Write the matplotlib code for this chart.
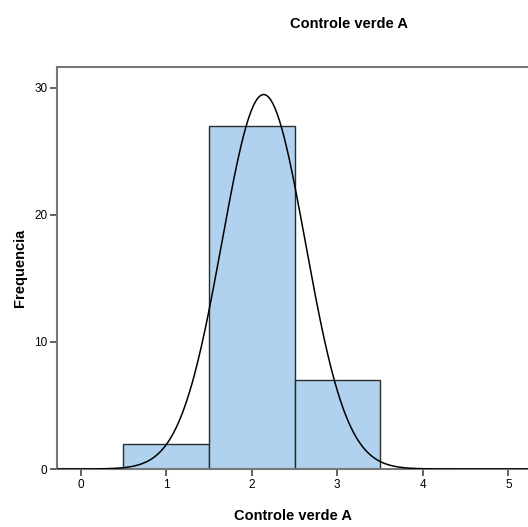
import matplotlib.pyplot as plt
import numpy as np

# histogram data
bin_centers = [1, 2, 3]
counts = [2, 27, 7]
xticks = [0, 1, 2, 3, 4, 5]
yticks = [0, 10, 20, 30]

plt.rcParams['font.family'] = ['Liberation Sans', 'DejaVu Sans']

fig = plt.figure(figsize=(5.28, 5.27), dpi=100)
ax = fig.add_axes([57/528, 1 - 469/527, 1 - 57/528, (469 - 67)/527])

ax.bar(bin_centers, counts, width=1.0, color="#B0D2EF", edgecolor="#2b2b2b", linewidth=1.0, zorder=2)

# normal curve fitted to the counts
vals = np.repeat(bin_centers, counts)
mu = vals.mean()
sd = vals.std(ddof=1)
n = len(vals)
xs = np.linspace(-0.3, 5.3, 400)
ys = n * 1.0 / (sd * np.sqrt(2 * np.pi)) * np.exp(-0.5 * ((xs - mu) / sd) ** 2)
ax.plot(xs, ys, color="black", linewidth=1.1, zorder=3)

ax.set_xlim(-0.277, 5.23)
ax.set_ylim(0, 31.65)
ax.set_xticks(xticks)
ax.set_yticks(yticks)
ax.tick_params(direction="out", length=5, width=1.3, color="#555555", labelsize=8.5, pad=2)
for s in ["left", "top", "bottom"]:
    ax.spines[s].set_color("#777777")
    ax.spines[s].set_linewidth(1.5)
ax.spines["right"].set_visible(False)

ax.set_xlabel("Controle verde A", fontsize=10.5, fontweight="bold", labelpad=13)
ax.set_ylabel("Frequencia", fontsize=10.5, fontweight="bold", labelpad=5)
fig.text(349/528, 1 - 24/527, "Controle verde A", fontsize=10.5, fontweight="bold", ha="center", va="center")

fig.savefig("out.png", dpi=100)
